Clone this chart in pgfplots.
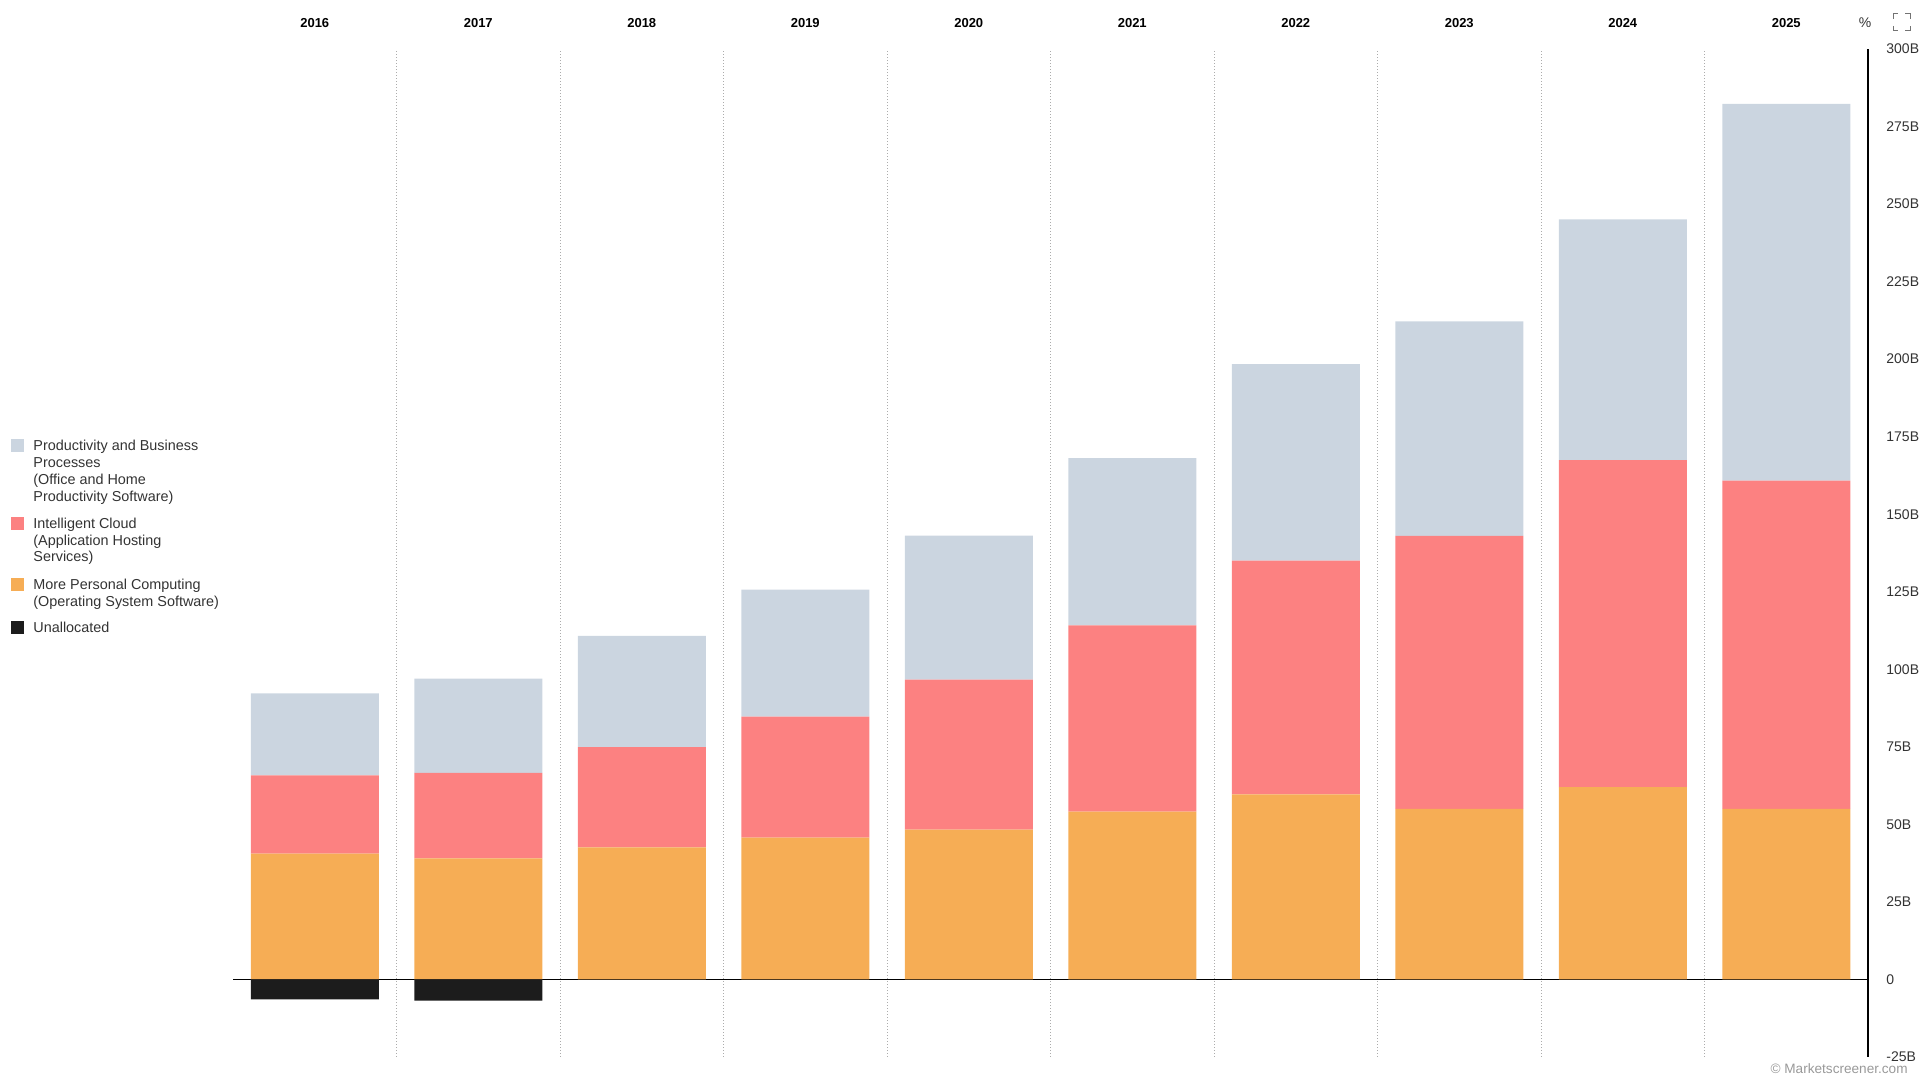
\documentclass[border=0pt]{standalone}
\usepackage{pgfplots}
\pgfplotsset{compat=1.18}
\usepackage{pgfplotstable}
\usepackage{fontspec}
\setmainfont{Liberation Sans}
\definecolor{cgray}{HTML}{CBD5E0}
\definecolor{cred}{HTML}{FC8181}
\definecolor{corange}{HTML}{F6AD55}
\definecolor{cblack}{HTML}{1C1C1C}
\definecolor{ctxt}{HTML}{333333}

\pgfplotstableread{
x  mpc   ic     pbp    un
0  40.6  25.2   26.4   -6.4
1  39.0  27.6   30.4   -6.8
2  42.6  32.3   35.9   0
3  45.7  39.0   41.0   0
4  48.3  48.4   46.4   0
5  54.1  60.1   53.9   0
6  59.7  75.3   63.4   0
7  55.0  88.0   69.2   0
8  62.0  105.4  77.7   0
9  55.0  105.8  121.5  0
}\datatable

\pgfplotsset{
  common/.style={
    at={(116.5pt,11pt)}, anchor=south west,
    scale only axis, width=817.5pt, height=504pt,
    xmin=-0.5, xmax=9.5, ymin=-25, ymax=300,
    bar width=64pt,
  }
}
\newcommand\lf{\fontsize{7.2}{8.5}\selectfont}
\newcommand\leg[2]{\node[anchor=base west, inner sep=0pt, text=ctxt, font=\lf] at (33,#1) {#2};}

\begin{document}
\begin{tikzpicture}
\useasboundingbox (0,0) rectangle (959.5pt,539.5pt);
\begin{axis}[common,
  ybar stacked,
  axis y line*=right, axis x line*=top,
  x axis line style={draw=none},
  y axis line style={line width=1pt, black},
  xtick={0,...,9},
  xticklabels={2016,2017,2018,2019,2020,2021,2022,2023,2024,2025},
  xticklabel style={font=\fontsize{6.5}{7.5}\selectfont\bfseries, anchor=base, yshift=10.5pt, text=black},
  ytick={-25,0,25,...,300},
  yticklabels={-25B,0,25B,50B,75B,100B,125B,150B,175B,200B,225B,250B,275B,300B},
  yticklabel style={font=\fontsize{7}{8}\selectfont, anchor=west, inner sep=0pt, xshift=9pt, text=ctxt},
  xtick style={draw=none}, ytick style={draw=none},
  minor xtick={0.5,1.5,...,8.5},
  xminorgrids,
  minor grid style={gray!65, line width=0.5pt, dash pattern=on 0.5pt off 1pt},
  clip=false,
]
\addplot[fill=corange, draw=none] table[x=x, y=mpc] {\datatable};
\addplot[fill=cred, draw=none] table[x=x, y=ic] {\datatable};
\addplot[fill=cgray, draw=none] table[x=x, y=pbp] {\datatable};
\draw[black, line width=0.7pt] (axis cs:-0.5,0) -- (axis cs:9.5,0);
\end{axis}
\begin{axis}[common, hide axis, ybar, bar shift=0pt]
\addplot[fill=cblack, draw=none] table[x=x, y=un] {\datatable};
\end{axis}

\begin{scope}[shift={(0,539.5pt)}, x=0.5pt, y=-0.5pt]
  % legend
  \fill[cgray] (11,439) rectangle (24,452);
  \fill[cred] (11,517) rectangle (24,530);
  \fill[corange] (11,578) rectangle (24,591);
  \fill[cblack] (11,621) rectangle (24,634);
  \leg{451}{Productivity and Business}
  \leg{468}{Processes}
  \leg{485}{(Office and Home}
  \leg{502}{Productivity Software)}
  \leg{529}{Intelligent Cloud}
  \leg{546}{(Application Hosting}
  \leg{562}{Services)}
  \leg{590}{More Personal Computing}
  \leg{607}{(Operating System Software)}
  \leg{633}{Unallocated}
  % top right
  \node[anchor=base, inner sep=0pt, text=ctxt, font=\fontsize{7}{8}\selectfont] at (1865,28) {\%};
  \begin{scope}[draw=gray!90!black, line width=0.5pt]
    \draw (1893,19) -- (1893,14) -- (1898,14);
    \draw (1905,14) -- (1910,14) -- (1910,19);
    \draw (1893,26) -- (1893,31) -- (1898,31);
    \draw (1905,31) -- (1910,31) -- (1910,26);
  \end{scope}
  \node[anchor=base east, inner sep=0pt, text=gray!80, font=\fontsize{6.8}{8}\selectfont] at (1908,1074) {© Marketscreener.com};
\end{scope}
\end{tikzpicture}
\end{document}
